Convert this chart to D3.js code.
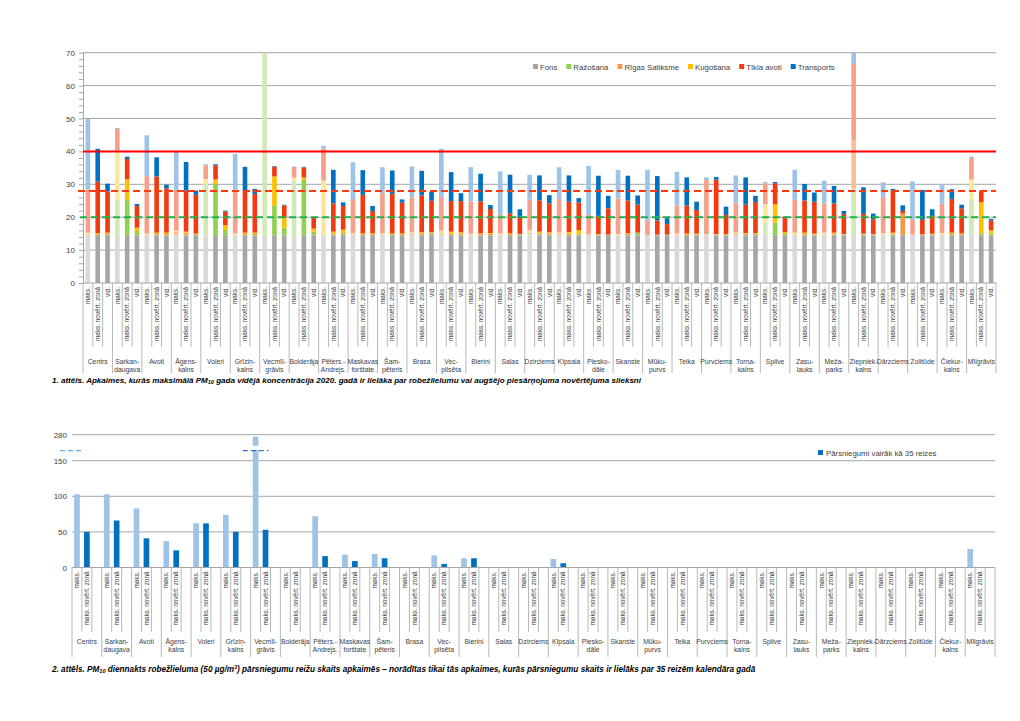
<!DOCTYPE html>
<html><head><meta charset="utf-8">
<script src="https://cdn.jsdelivr.net/npm/d3@7"></script>
<style>body{margin:0;background:#fff}svg{font-family:"Liberation Sans",Arial,sans-serif}</style>
</head><body><svg id="c" width="1020" height="721"></svg>
<script>
// ---------------- DATA ----------------
const neighborhoods = ["Centrs","Sarkan-\ndaugava","Avoti","Āgens-\nkalns","Voleri","Grīziņ-\nkalns","Vecmīl-\ngrāvis","Bolderāja","Pēters.-\nAndrejs.","Maskavas\nforštate","Šam-\npēteris","Brasa","Vec-\npilsēta","Bieriņi","Salas","Dzirciems","Ķīpsala","Plesko-\ndāle","Skanste","Mūku-\npurvs","Teika","Purvciems","Torņa-\nkalns","Spilve","Zasu-\nlauks","Meža-\nparks","Ziepniek-\nkalns","Dārzciems","Zolitūde","Čiekur-\nkalns","Mīlgrāvis"];
const subLabelsTop = ["maks.","maks. novērt. zonā","vid."];
const subLabelsBottom = ["maks.","maks. novērt. zonā",""];
const seriesNames = ["Fons","Ražošana","Rīgas Satiksme","Kuģošana","Tīkla avoti","Transports"];
const yTicksTop = [0,10,20,30,40,50,60,70];
const refLimit = 40, refUpper = 28, refLower = 20;

// values per bar, order: maks., maks. novērt. zonā, vid. for each neighbourhood
const fons = [14.5,14.5,14.5, 14.5,14.5,14.5, 14.5,14.5,14.5, 14.5,14.5,14.5, 14.5,14.5,14.5, 14.5,14.5,14.5, 14.5,14.5,14.5, 14.5,14.5,14.5, 14.5,14.5,14.5, 14.5,14.5,14.5, 14.5,14.5,14.5, 14.5,14.5,14.5, 14.5,14.5,14.5, 14.5,14.5,14.5, 14.5,14.5,14.5, 14.5,14.5,14.5, 14.5,14.5,14.5, 14.5,14.5,14.5, 14.5,14.5,14.5, 14.5,14.5,14.5, 14.5,14.5,14.5, 14.5,14.5,14.5, 14.5,14.5,14.5, 14.5,14.5,14.5, 14.5,14.5,14.5, 14.5,14.5,14.5, 14.5,14.5,14.5, 14.5,14.5,14.5, 14.5,14.5,14.5, 14.5,14.5,14.5, 14.5,14.5,14.5];
const razosana = [0,0.1,0.1, 10.8,11.0,1.3, 0,0.1,0.1, 0,0.2,0.1, 15.6,15.6,1.6, 0,0.1,0.1, 60,8.9,2.3, 16.7,16.8,1.1, 0,0.2,0.5, 0,0.1,0.1, 0,0.1,0.1, 0,0.1,0.6, 0,0.1,0.1, 0,0.1,0.1, 0,0.1,0.1, 0.3,0.2,0.1, 0,0.1,0.3, 0,0.1,0.1, 0,0.1,0.7, 0,0.1,0.1, 0,0.1,0.1, 0,0.1,0.1, 0,0.1,0.1, 3.9,3.9,0.4, 0,0.1,0.1, 0.2,0.2,0.1, 14.2,0.2,0.1, 0,0.2,0.1, 0,0.1,0.3, 0,0.1,0.1, 11.2,0.6,0.5];
const rigasSatiksme = [0.3,0.3,0.3, 0,0,0, 0.3,0.3,0.3, 1.0,0.6,0.3, 0,0,0, 0.3,0.3,0.3, 0,0,0, 0,0,0, 0,0.4,0.2, 0.3,0.3,0.3, 0.3,0.3,0.3, 0.4,0.4,0.2, 0.6,0.4,0.4, 0.3,0.3,0.3, 0.3,0.3,0.2, 0.5,0.4,0.4, 0.4,0.4,0.1, 0.3,0.2,0.1, 0.2,0.3,0.1, 0.1,0.1,0.1, 0.3,0.3,0.2, 0.3,0.2,0.2, 0.4,0.4,0.4, 0,0,0, 0.3,0.3,0.2, 0.3,0.3,0.2, 14.8,0.2,0.2, 0.3,0.3,6.5, 0.2,0.2,0.2, 0.3,0.3,0.3, 0,0,0];
const kugosana = [0.5,0.3,0.4, 14.9,6.0,1.0, 0.3,0.4,0.4, 0.4,0.3,0.2, 1.5,1.4,1.5, 0.3,0.4,0.4, 0,9.0,3.1, 0.8,0.8,0.9, 16.6,0.5,1.0, 0.3,0.2,0.2, 0.3,0.2,0.2, 0.5,0.4,0.1, 0.8,0.6,0.4, 0.2,0.2,0.3, 0.3,0.2,0.1, 0.7,0.5,0.4, 0.4,0.5,1.2, 0,0.1,0, 0.2,0.2,0, 0,0,0, 0.3,0.2,0.2, 0.1,0.1,0.1, 0.4,0.2,0.2, 5.5,5.5,0.5, 0.5,0.4,0.2, 0.3,0.3,0.1, 0,0.1,0.1, 0.4,0.3,0, 0,0,0, 0.4,0.4,0.2, 5.8,9.5,1.0];
const tiklaAvoti = [13.2,15.6,12.5, 6.6,6.2,6.6, 17.4,17.1,13.5, 12.4,12.5,11.7, 4.2,4.3,4.1, 13.2,12.5,11.8, 0,2.9,3.7, 3.3,3.0,3.4, 9.8,8.6,7.2, 10.4,11.7,6.8, 12.2,12.0,9.3, 10.6,11.2,9.6, 10.2,9.3,9.5, 9.8,9.7,7.3, 5.6,6.1,5.0, 9.4,9.5,8.8, 10.2,9.2,8.4, 5.9,5.5,8.0, 10.8,10.0,8.5, 4.3,4.3,3.2, 8.5,8.4,7.2, 16.4,16.5,5.8, 8.9,8.6,9.4, 6.4,6.4,4.7, 10.0,9.8,9.7, 8.9,8.9,6.1, 23.1,6.0,4.5, 10.9,12.8,0.8, 4.5,4.4,5.4, 9.0,10.2,7.6, 6.5,3.2,3.0];
const transports = [21.5,10.0,2.4, 0.3,0.7,0.6, 12.4,5.8,1.1, 11.7,8.7,1.3, 0.3,0.3,0.3, 10.9,7.5,1.5, 0,0.2,0.2, 0.1,0.2,0.1, 0.8,10.2,1.1, 11.2,7.5,1.5, 7.9,7.1,1.0, 9.4,7.5,2.8, 14.7,8.8,2.4, 10.4,8.4,1.2, 13.2,11.7,2.5, 7.5,7.6,2.5, 9.7,8.0,1.3, 14.9,12.2,3.8, 8.7,7.5,2.8, 15.5,13.5,1.8, 10.2,8.6,2.5, 0.8,0.8,2.5, 8.5,8.3,1.9, 0.4,0.4,0.1, 9.1,5.0,2.8, 6.9,5.3,0.9, 6.0,8.1,1.7, 4.5,0.5,1.7, 11.7,9.1,2.0, 5.7,3.0,1.1, 0.4,0.3,0.5];

// chart 2: exceedances of daily limit
const exceedMax  = [103,103,83,37,62,74,270,0,72,18,19,0,17,13,0,0,12,0,0,0,0,0,0,0,0,0,0,0,0,0,26];
const exceedZone = [50,66,41,24,62,50,53,0,16,9,13,0,5,13,0,0,6,0,0,0,0,0,0,0,0,0,0,0,0,0,0];
const yTicksBottom = [0,50,100,150,280];
const axisBreakValue = 200;
const bottomLegend = "Pārsniegumi vairāk kā 35 reizes";

// ---------------- STYLE ----------------
const fullColors  = ["#a6a6a6","#92d050","#f79646","#ffc000","#f23a0e","#0070c0"];
const lightColors = ["#d9d9d9","#d2e8b8","#f9bf92","#ffe79a","#f6a08b","#9dc3e6"];
const gridC = "#a6a6a6", textC = "#404040";

const svg = d3.select("#c");

// ================= CHART 1 =================
const P1 = {l:83, r:996, t:52.7, b:283};
const nSlots = neighborhoods.length*3;
const x1 = d3.scaleBand().domain(d3.range(nSlots)).range([P1.l,P1.r]).paddingInner(0.53).paddingOuter(0.265);
const y1 = d3.scaleLinear().domain([0,70]).range([P1.b,P1.t]);

const g1 = svg.append("g");
g1.append("g").selectAll("line").data(yTicksTop.filter(d=>d>0)).join("line")
  .attr("x1",P1.l).attr("x2",P1.r).attr("y1",d=>y1(d)).attr("y2",d=>y1(d))
  .attr("stroke",gridC).attr("stroke-width",1);

const ya = g1.append("g").attr("transform",`translate(${P1.l},0)`)
  .call(d3.axisLeft(y1).tickValues(yTicksTop).tickSize(0).tickPadding(8));
ya.select(".domain").attr("stroke",gridC);
ya.selectAll("text").attr("font-size",8).attr("fill",textC);
const ym = g1.append("g").attr("transform",`translate(${P1.l},0)`)
  .call(d3.axisLeft(y1).tickValues(d3.range(0,71,2)).tickSize(4).tickFormat(""));
ym.select(".domain").remove();
ym.selectAll("line").attr("stroke",gridC);

const rows = d3.range(nSlots).map(i=>{
  const o={slot:i};
  [fons,razosana,rigasSatiksme,kugosana,tiklaAvoti,transports].forEach((arr,k)=>o[seriesNames[k]]=arr[i]);
  return o;
});
const stacked = d3.stack().keys(seriesNames)(rows);
svg.append("clipPath").attr("id","clip1").append("rect")
  .attr("x",P1.l).attr("y",P1.t).attr("width",P1.r-P1.l).attr("height",P1.b-P1.t);
const bars = g1.append("g").attr("clip-path","url(#clip1)");
stacked.forEach((layer,k)=>{
  bars.append("g").selectAll("rect").data(layer).join("rect")
    .attr("x",d=>x1(d.data.slot)).attr("width",x1.bandwidth())
    .attr("y",d=>y1(d[1])).attr("height",d=>Math.max(0,y1(d[0])-y1(d[1])))
    .attr("fill",d=>d.data.slot%3===0?lightColors[k]:fullColors[k]);
});

g1.append("line").attr("x1",P1.l).attr("x2",P1.r).attr("y1",y1(refLimit)).attr("y2",y1(refLimit))
  .attr("stroke","#ff0000").attr("stroke-width",2);
g1.append("line").attr("x1",P1.l-5).attr("x2",P1.r).attr("y1",y1(refUpper)).attr("y2",y1(refUpper))
  .attr("stroke","#ff3a10").attr("stroke-width",2).attr("stroke-dasharray","7,4");
g1.append("line").attr("x1",P1.l-3).attr("x2",P1.r).attr("y1",y1(refLower)).attr("y2",y1(refLower))
  .attr("stroke","#22b24c").attr("stroke-width",2).attr("stroke-dasharray","7,4");

g1.append("line").attr("x1",P1.l).attr("x2",P1.r).attr("y1",P1.b).attr("y2",P1.b).attr("stroke",gridC);

function categoryAxis(g, x, yAxis, innerEnd, groupEnd, labelY, subs){
  const step = x.step(), x0 = x.range()[0];
  g.append("g").selectAll("line").data(d3.range(nSlots+1)).join("line")
    .attr("x1",k=>x0+k*step).attr("x2",k=>x0+k*step)
    .attr("y1",yAxis).attr("y2",k=>k%3===0?groupEnd:innerEnd)
    .attr("stroke",gridC).attr("stroke-width",0.8);
  g.append("g").selectAll("text").data(d3.range(nSlots).filter(i=>subs[i%3]!=="")).join("text")
    .attr("transform",i=>`translate(${x(i)+x.bandwidth()/2+2.2},${yAxis+4}) rotate(-90)`)
    .attr("text-anchor","end").attr("font-size",6.4).attr("fill",textC)
    .text(i=>subs[i%3]);
  const lab = g.append("g").selectAll("text").data(neighborhoods).join("text")
    .attr("x",(d,i)=>x0+(i*3+1.5)*step).attr("y",labelY)
    .attr("text-anchor","middle").attr("font-size",6.8).attr("fill",textC);
  lab.each(function(d){
    const parts=d.split("\n"); const t=d3.select(this);
    parts.forEach((p,j)=>t.append("tspan").attr("x",t.attr("x")).attr("dy",j===0?0:8.4).text(p));
  });
}
categoryAxis(g1, x1, P1.b, 347, 373, 363.5, subLabelsTop);

const leg = g1.append("g");
let lx = 533;
seriesNames.forEach((s,k)=>{
  leg.append("rect").attr("x",lx).attr("y",64).attr("width",5).attr("height",5).attr("fill",fullColors[k]);
  const t = leg.append("text").attr("x",lx+7).attr("y",69.5).attr("font-size",7.8).attr("fill",textC).text(s);
  lx += 7 + t.node().getComputedTextLength() + 9;
});

// captions: narrow bold italic, font size chosen so the line spans the reference width
function caption(x, y, targetWidth, parts){
  const t = svg.append("text").attr("x",x).attr("y",y).attr("font-weight","bold")
    .attr("font-style","italic").attr("fill","#000")
    .attr("font-family","'Liberation Sans Narrow','Arial Narrow','Liberation Sans',Arial,sans-serif");
  function build(fs){
    t.selectAll("*").remove(); t.attr("font-size",fs);
    let shift = 0;
    parts.forEach(p=>{
      const sh = p.sub ? 0.22*fs : p.sup ? -0.35*fs : 0;
      const ts = t.append("tspan").attr("dy",sh-shift).text(p.t);
      if(p.sub||p.sup) ts.attr("font-size",fs*0.68);
      shift = sh;
    });
  }
  build(10);
  const w = t.node().getComputedTextLength();
  build(Math.min(10.5, 10*targetWidth/w));
}
caption(52, 382.5, 590, [{t:"1. attēls. Apkaimes, kurās maksimālā PM"},{t:"10",sub:true},
  {t:" gada vidējā koncentrācija 2020. gadā ir lielāka par robežlielumu vai augšējo piesārņojuma novērtējuma slieksni"}]);

// ================= CHART 2 =================
const P2 = {l:72, r:995};
const x2 = d3.scaleBand().domain(d3.range(nSlots)).range([P2.l,P2.r]).paddingInner(0.43).paddingOuter(0.215);
const y2 = d3.scaleLinear().domain([0,150,280]).range([567.5,460.7,434.7]);
const g2 = svg.append("g");
g2.append("g").selectAll("line").data(yTicksBottom.filter(d=>d>0)).join("line")
  .attr("x1",P2.l).attr("x2",P2.r).attr("y1",d=>y2(d)).attr("y2",d=>y2(d))
  .attr("stroke",gridC);
g2.append("g").selectAll("text").data(yTicksBottom).join("text")
  .attr("x",67).attr("y",d=>y2(d)+3).attr("text-anchor","end").attr("font-size",8).attr("fill",textC).text(d=>d);

const bRows = [];
neighborhoods.forEach((n,i)=>{
  bRows.push({slot:i*3, v:exceedMax[i], c:lightColors[5]});
  bRows.push({slot:i*3+1, v:exceedZone[i], c:fullColors[5]});
});
g2.append("g").selectAll("rect").data(bRows.filter(d=>d.v>0)).join("rect")
  .attr("x",d=>x2(d.slot)).attr("width",x2.bandwidth())
  .attr("y",d=>y2(d.v)).attr("height",d=>y2(0)-y2(d.v)).attr("fill",d=>d.c);

const yb = y2(axisBreakValue);
const broken = bRows.filter(d=>d.v>axisBreakValue);
g2.append("g").selectAll("rect").data(broken).join("rect")
  .attr("x",d=>x2(d.slot)-1).attr("width",x2.bandwidth()+2).attr("y",yb-5).attr("height",4).attr("fill","#fff");
g2.append("line").attr("x1",60).attr("x2",P2.l+10).attr("y1",yb).attr("y2",yb)
  .attr("stroke","#6fa8dc").attr("stroke-width",1.3).attr("stroke-dasharray","5,3");
g2.append("g").selectAll("line").data(broken).join("line")
  .attr("x1",d=>x2(d.slot)-10).attr("x2",d=>x2(d.slot)+x2.bandwidth()+10).attr("y1",yb).attr("y2",yb)
  .attr("stroke","#2e75b6").attr("stroke-width",1.3).attr("stroke-dasharray","5,3");

g2.append("line").attr("x1",P2.l).attr("x2",P2.r).attr("y1",y2(0)).attr("y2",y2(0)).attr("stroke",gridC);
categoryAxis(g2, x2, y2(0), 632, 657, 644, subLabelsBottom);

g2.append("rect").attr("x",818).attr("y",450).attr("width",5).attr("height",5).attr("fill",fullColors[5]);
g2.append("text").attr("x",826).attr("y",455.5).attr("font-size",7.8).attr("fill",textC).text(bottomLegend);

caption(52, 671.5, 704, [{t:"2. attēls. PM"},{t:"10",sub:true},{t:" diennakts robežlieluma (50 µg/m"},{t:"3",sup:true},
  {t:") pārsniegumu reižu skaits apkaimēs – norādītas tikai tās apkaimes, kurās pārsniegumu skaits ir lielāks par 35 reizēm kalendāra gadā"}]);
</script></body></html>
